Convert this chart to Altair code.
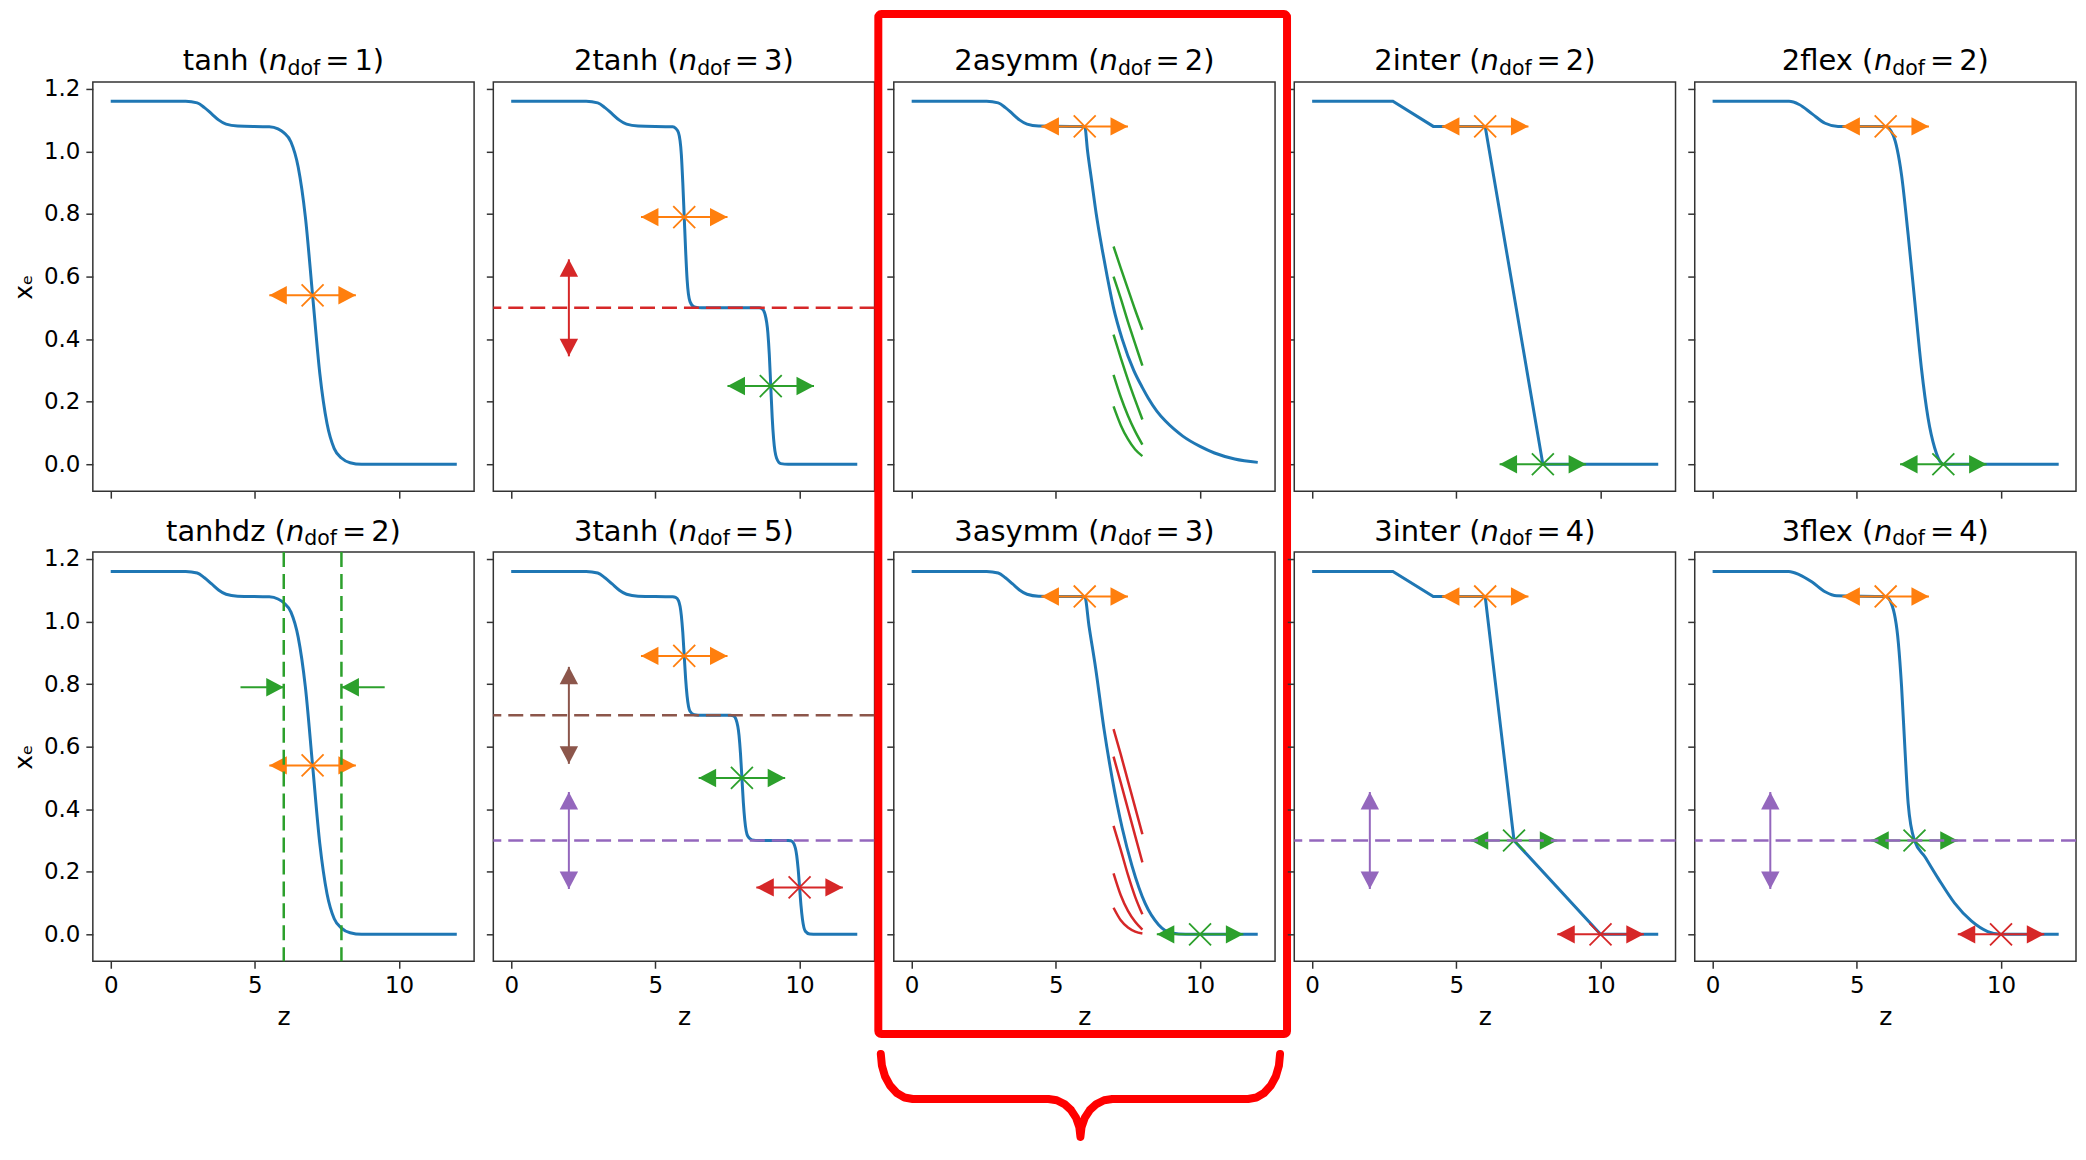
import altair as alt
import pandas as pd

# ------------------------------------------------------------------
# Values
# ------------------------------------------------------------------
PANEL_NAMES = ["tanh", "2tanh", "2asymm", "2inter", "2flex",
               "tanhdz", "3tanh", "3asymm", "3inter", "3flex"]
PANEL_NDOF = [1, 3, 2, 2, 2, 2, 5, 3, 4, 4]

X_TICKS = [0, 5, 10]
Y_TICKS = [0.0, 0.2, 0.4, 0.6, 0.8, 1.0, 1.2]

# blue model curves (z, x_e)
Z_TANH = [0, 2.6, 3.0, 3.25, 3.5, 3.75, 4.0, 4.4, 5.5, 5.8, 6.0, 6.25, 6.5, 6.75,
          7.0, 7.25, 7.5, 7.75, 8.0, 8.3, 8.7, 12.0]
XE_TANH = [1.16, 1.16, 1.155, 1.14, 1.12, 1.10, 1.087, 1.081, 1.079, 1.072, 1.06, 1.03,
           0.95, 0.79, 0.54, 0.29, 0.13, 0.05, 0.02, 0.005, 0.0, 0.0]

Z_2TANH = [0, 2.6, 3.0, 3.25, 3.5, 3.75, 4.0, 4.4,
           5.6, 5.7, 5.8, 5.9, 5.95, 6.0, 6.05, 6.1, 6.2, 6.35, 6.6,
           8.6, 8.7, 8.8, 8.9, 8.95, 9.0, 9.05, 9.1, 9.2, 9.35, 9.6, 12.0]
XE_2TANH = [1.16, 1.16, 1.155, 1.14, 1.12, 1.10, 1.087, 1.081,
            1.079, 1.074, 1.06, 0.99, 0.90, 0.79, 0.68, 0.59, 0.52, 0.503, 0.5,
            0.5, 0.497, 0.48, 0.42, 0.35, 0.25, 0.15, 0.08, 0.02, 0.002, 0.0, 0.0]

Z_2ASYMM = [0, 2.6, 3.0, 3.25, 3.5, 3.75, 4.0, 4.4, 5.5, 6.0, 6.1, 6.25, 6.4, 6.6, 6.78,
            7.0, 7.3, 7.7, 8.0, 8.2, 8.5, 8.8, 9.1, 9.4, 10.0, 10.5, 11.2, 12.0]
XE_2ASYMM = [1.16, 1.16, 1.155, 1.14, 1.12, 1.10, 1.087, 1.081, 1.08, 1.08, 1.0, 0.9, 0.8,
             0.69, 0.6, 0.5, 0.4, 0.3, 0.245, 0.212, 0.17, 0.138, 0.112, 0.09, 0.057,
             0.036, 0.017, 0.006]

Z_2INTER = [0, 2.8, 4.2, 6.0, 8.0, 12.0]
XE_2INTER = [1.16, 1.16, 1.08, 1.08, 0.0, 0.0]

Z_2FLEX = [0, 2.65, 3.0, 3.45, 3.9, 4.35, 6.0, 6.26, 6.55, 6.78, 7.01, 7.24, 7.47, 7.7,
           7.93, 8.0, 12.0]
XE_2FLEX = [1.16, 1.16, 1.15, 1.12, 1.09, 1.08, 1.08, 1.052, 0.925, 0.733, 0.52, 0.307,
            0.148, 0.052, 0.004, 0.0, 0.0]

Z_3TANH = [0, 2.6, 3.0, 3.25, 3.5, 3.75, 4.0, 4.4,
           5.6, 5.7, 5.8, 5.9, 5.95, 6.0, 6.05, 6.1, 6.2, 6.35, 6.6,
           7.6, 7.7, 7.8, 7.9, 7.95, 8.0, 8.05, 8.1, 8.2, 8.35, 8.6,
           9.6, 9.7, 9.8, 9.9, 9.95, 10.0, 10.05, 10.1, 10.2, 10.35, 10.6, 12.0]
XE_3TANH = [1.16, 1.16, 1.155, 1.14, 1.12, 1.10, 1.087, 1.081,
            1.079, 1.077, 1.067, 1.019, 0.965, 0.89, 0.815, 0.761, 0.713, 0.702, 0.7,
            0.7, 0.699, 0.686, 0.636, 0.579, 0.5, 0.421, 0.364, 0.314, 0.302, 0.3,
            0.3, 0.299, 0.29, 0.252, 0.209, 0.15, 0.091, 0.048, 0.01, 0.001, 0.0, 0.0]

Z_3ASYMM = [0, 2.6, 3.0, 3.25, 3.5, 3.75, 4.0, 4.4, 5.5, 6.0, 6.15, 6.38, 6.67, 6.95, 7.3,
            7.64, 8.1, 8.56, 9.02, 9.5, 12.0]
XE_3ASYMM = [1.16, 1.16, 1.155, 1.14, 1.12, 1.10, 1.087, 1.081, 1.08, 1.08, 0.985, 0.85,
             0.656, 0.5, 0.34, 0.219, 0.098, 0.031, 0.004, 0.0, 0.0]

Z_3INTER = [0, 2.8, 4.2, 6.0, 7.0, 10.0, 12.0]
XE_3INTER = [1.16, 1.16, 1.08, 1.08, 0.3, 0.0, 0.0]

Z_3FLEX = [0, 2.64, 3.0, 3.45, 3.9, 4.3, 6.0, 6.2, 6.44, 6.55, 6.67, 6.78, 7.0, 7.36,
           7.82, 8.39, 8.97, 9.54, 10.0, 12.0]
XE_3FLEX = [1.16, 1.16, 1.15, 1.126, 1.095, 1.082, 1.08, 1.057, 0.932, 0.795, 0.59, 0.419,
            0.3, 0.248, 0.179, 0.1, 0.043, 0.009, 0.0, 0.0]

# horizontal double arrows with an "x" at their centre
H_PANEL = [0, 1, 1, 2, 3, 3, 4, 4, 5, 6, 6, 6, 7, 7, 8, 8, 8, 9, 9, 9]
H_Z = [7, 6, 9, 6, 6, 8, 6, 8, 7, 6, 8, 10, 6, 10, 6, 7, 10, 6, 7, 10]
H_XE = [0.54, 0.79, 0.25, 1.08, 1.08, 0.0, 1.08, 0.0, 0.54, 0.89, 0.50, 0.15,
        1.08, 0.0, 1.08, 0.30, 0.0, 1.08, 0.30, 0.0]
H_KIND = ["orange", "orange", "green", "orange", "orange", "green", "orange", "green",
          "orange", "orange", "green", "red", "orange", "green", "orange", "green", "red",
          "orange", "green", "red"]

# vertical double arrows
V_PANEL = [1, 6, 6, 8, 9]
V_Z = [2, 2, 2, 2, 2]
V_XE = [0.5, 0.7, 0.3, 0.3, 0.3]
V_KIND = ["red", "brown", "purple", "purple", "purple"]

# horizontal dashed lines
HL_PANEL = [1, 6, 6, 8, 9]
HL_XE = [0.5, 0.7, 0.3, 0.3, 0.3]
HL_KIND = ["red", "brown", "purple", "purple", "purple"]

# vertical dashed lines (tanhdz)
VL_PANEL = [5, 5]
VL_Z = [6, 8]
VL_KIND = ["green", "green"]

# single arrows pointing inward (tanhdz)
IN_PANEL = [5, 5]
IN_TAIL = [4.5, 9.5]
IN_TIP = [6.0, 8.0]
IN_XE = [0.79, 0.79]
IN_KIND = ["green", "green"]

# shape-parameter arcs in the asymm panels
ARC_Z = [7.0, 7.25, 7.5, 7.75, 8.0]
ARCS_2ASYMM = [[0.696, 0.627, 0.56, 0.493, 0.43],
               [0.60, 0.53, 0.455, 0.385, 0.315],
               [0.414, 0.34, 0.27, 0.205, 0.143],
               [0.286, 0.215, 0.155, 0.105, 0.063],
               [0.185, 0.125, 0.08, 0.047, 0.026]]
ARCS_3ASYMM = [[0.656, 0.575, 0.49, 0.405, 0.32],
               [0.568, 0.485, 0.40, 0.315, 0.23],
               [0.347, 0.27, 0.19, 0.12, 0.064],
               [0.195, 0.125, 0.075, 0.04, 0.015],
               [0.085, 0.045, 0.022, 0.009, 0.003]]

# ------------------------------------------------------------------
# Layout / style
# ------------------------------------------------------------------
W, H = 382, 410
GAP_X, GAP_Y = 19.25, 61
XMIN, XMAX = -0.62, 12.6
YMIN, YMAX = -0.086, 1.222
ARROW_HALF_Z = 1.5
ARROW_HALF_XE = 0.155

COLORS = {"blue": "#1f77b4", "orange": "#ff7f0e", "green": "#2ca02c",
          "red": "#d62728", "purple": "#9467bd", "brown": "#8c564b"}
BLUE = COLORS["blue"]
HILITE = "#ff0000"
FONT = "DejaVu Sans"
TITLE_SIZE, SUB_SIZE = 29, 20.5
TITLE_BASE, SUB_BASE = -11.5, -7.0
EQ_GAP = 5.0

CHAR_EM = {" ": 0.318, "(": 0.390, ")": 0.390, "=": 0.838,
           "0": 0.636, "1": 0.636, "2": 0.636, "3": 0.636, "4": 0.636, "5": 0.636,
           "a": 0.613, "d": 0.635, "e": 0.615, "f": 0.352, "h": 0.634, "i": 0.278,
           "l": 0.278, "m": 0.974, "n": 0.634, "o": 0.612, "r": 0.411, "s": 0.521,
           "t": 0.392, "x": 0.592, "y": 0.592, "z": 0.525}

CURVES = {0: (Z_TANH, XE_TANH, "monotone"), 1: (Z_2TANH, XE_2TANH, "monotone"),
          2: (Z_2ASYMM, XE_2ASYMM, "monotone"), 3: (Z_2INTER, XE_2INTER, "linear"),
          4: (Z_2FLEX, XE_2FLEX, "monotone"), 5: (Z_TANH, XE_TANH, "monotone"),
          6: (Z_3TANH, XE_3TANH, "monotone"), 7: (Z_3ASYMM, XE_3ASYMM, "monotone"),
          8: (Z_3INTER, XE_3INTER, "linear"), 9: (Z_3FLEX, XE_3FLEX, "monotone")}
ARCS = {2: (ARCS_2ASYMM, "green"), 7: (ARCS_3ASYMM, "red")}

# decorative red frame and brace (pixel offsets relative to the 3asymm panel)
BOX_L, BOX_R, BOX_T, BOX_B = -15.5, 394, -539, 483
BRACE_PX = [-13, -11.9, -8.7, -3.6, 3, 10.7, 19, 155, 163.3, 171, 177.6, 182.7, 185.9,
            187, 188.1, 191.3, 196.4, 203, 210.7, 219, 355, 363.3, 371, 377.6, 382.7,
            385.9, 387]
BRACE_PY = [503, 514.6, 525.5, 534.8, 542, 546.5, 548, 548, 549.3, 553.1, 559.1, 567,
            576.2, 586, 576.2, 567, 559.1, 553.1, 549.3, 548, 548, 546.5, 542, 534.8,
            525.5, 514.6, 503]

SX = alt.Scale(domain=[XMIN, XMAX], nice=False, zero=False)
SY = alt.Scale(domain=[YMIN, YMAX], nice=False, zero=False)

PATH_RIGHT = "M 0 0 L -1.9 -1 L -1.9 1 Z"
PATH_LEFT = "M 0 0 L 1.9 -1 L 1.9 1 Z"
PATH_UP = "M 0 0 L -1 1.9 L 1 1.9 Z"
PATH_DOWN = "M 0 0 L -1 -1.9 L 1 -1.9 Z"
PATH_X = "M -1 -1 L 1 1 M -1 1 L 1 -1"
HEAD_SIZE = 340
X_SIZE = 484

ONE = pd.DataFrame({"k": [0]})


def text_width(s, size):
    return sum(CHAR_EM.get(c, 0.6) for c in s) * size


def panel(i):
    row, col = divmod(i, 5)
    ax_x = alt.Axis(values=X_TICKS, labels=(row == 1),
                    title=("z" if row == 1 else None), titlePadding=7)
    ax_y = alt.Axis(values=Y_TICKS, format=".1f", labels=(col == 0),
                    title=("x\u2091" if col == 0 else None), titlePadding=7)

    def X(f):
        return alt.X(f, type="quantitative", scale=SX, axis=ax_x)

    def Y(f):
        return alt.Y(f, type="quantitative", scale=SY, axis=ax_y)

    colr = alt.Color("c:N", scale=None)
    layers = []

    # model curve
    z, xe, interp = CURVES[i]
    cdf = pd.DataFrame({"z": z, "xe": xe})
    layers.append(alt.Chart(cdf).mark_line(color=BLUE, strokeWidth=3, interpolate=interp)
                  .encode(x=X("z"), y=Y("xe")))

    # arcs
    if i in ARCS:
        vals, kind = ARCS[i]
        rows = [{"z": zz, "xe": v, "arc": a, "c": COLORS[kind]}
                for a, arc in enumerate(vals) for zz, v in zip(ARC_Z, arc)]
        layers.append(alt.Chart(pd.DataFrame(rows))
                      .mark_line(strokeWidth=2.5, interpolate="monotone")
                      .encode(x=X("z"), y=Y("xe"), detail="arc:N", color=colr))

    # horizontal double arrows
    idx = [k for k, p in enumerate(H_PANEL) if p == i]
    if idx:
        hdf = pd.DataFrame({
            "zc": [H_Z[k] for k in idx],
            "z0": [H_Z[k] - ARROW_HALF_Z for k in idx],
            "z1": [H_Z[k] + ARROW_HALF_Z for k in idx],
            "xe": [H_XE[k] for k in idx],
            "c": [COLORS[H_KIND[k]] for k in idx],
        })
        b = alt.Chart(hdf)
        layers += [
            b.mark_rule(strokeWidth=2).encode(x=X("z0"), x2=alt.X2("z1"), y=Y("xe"), color=colr),
            b.mark_point(shape=PATH_LEFT, filled=True, size=HEAD_SIZE, opacity=1, strokeWidth=0)
             .encode(x=X("z0"), y=Y("xe"), color=colr),
            b.mark_point(shape=PATH_RIGHT, filled=True, size=HEAD_SIZE, opacity=1, strokeWidth=0)
             .encode(x=X("z1"), y=Y("xe"), color=colr),
            b.mark_point(shape=PATH_X, filled=False, size=X_SIZE, opacity=1, strokeWidth=1.8)
             .encode(x=X("zc"), y=Y("xe"), color=colr),
        ]

    # vertical double arrows
    idx = [k for k, p in enumerate(V_PANEL) if p == i]
    if idx:
        vdf = pd.DataFrame({
            "z": [V_Z[k] for k in idx],
            "y0": [V_XE[k] - ARROW_HALF_XE for k in idx],
            "y1": [V_XE[k] + ARROW_HALF_XE for k in idx],
            "c": [COLORS[V_KIND[k]] for k in idx],
        })
        b = alt.Chart(vdf)
        layers += [
            b.mark_rule(strokeWidth=2).encode(x=X("z"), y=Y("y0"), y2=alt.Y2("y1"), color=colr),
            b.mark_point(shape=PATH_UP, filled=True, size=HEAD_SIZE, opacity=1, strokeWidth=0)
             .encode(x=X("z"), y=Y("y1"), color=colr),
            b.mark_point(shape=PATH_DOWN, filled=True, size=HEAD_SIZE, opacity=1, strokeWidth=0)
             .encode(x=X("z"), y=Y("y0"), color=colr),
        ]

    # single inward arrows
    idx = [k for k, p in enumerate(IN_PANEL) if p == i]
    if idx:
        idf = pd.DataFrame({
            "zt": [IN_TAIL[k] for k in idx],
            "zh": [IN_TIP[k] for k in idx],
            "xe": [IN_XE[k] for k in idx],
            "c": [COLORS[IN_KIND[k]] for k in idx],
        })
        layers.append(alt.Chart(idf).mark_rule(strokeWidth=2)
                      .encode(x=X("zt"), x2=alt.X2("zh"), y=Y("xe"), color=colr))
        rdf = idf[idf["zh"] > idf["zt"]]
        ldf = idf[idf["zh"] < idf["zt"]]
        if len(rdf):
            layers.append(alt.Chart(rdf).mark_point(shape=PATH_RIGHT, filled=True, size=HEAD_SIZE,
                                                    opacity=1, strokeWidth=0)
                          .encode(x=X("zh"), y=Y("xe"), color=colr))
        if len(ldf):
            layers.append(alt.Chart(ldf).mark_point(shape=PATH_LEFT, filled=True, size=HEAD_SIZE,
                                                    opacity=1, strokeWidth=0)
                          .encode(x=X("zh"), y=Y("xe"), color=colr))

    # dashed horizontal lines
    idx = [k for k, p in enumerate(HL_PANEL) if p == i]
    if idx:
        ldf = pd.DataFrame({"xe": [HL_XE[k] for k in idx],
                            "c": [COLORS[HL_KIND[k]] for k in idx]})
        layers.append(alt.Chart(ldf).mark_rule(strokeWidth=2.5, strokeDash=[15, 7])
                      .encode(y=Y("xe"), color=colr))

    # dashed vertical lines
    idx = [k for k, p in enumerate(VL_PANEL) if p == i]
    if idx:
        ldf = pd.DataFrame({"z": [VL_Z[k] for k in idx],
                            "c": [COLORS[VL_KIND[k]] for k in idx]})
        layers.append(alt.Chart(ldf).mark_rule(strokeWidth=2.5, strokeDash=[15, 7])
                      .encode(x=X("z"), color=colr))

    # title  "<name> (n_dof = k)"
    left = f"{PANEL_NAMES[i]} ("
    num = f"{PANEL_NDOF[i]})"
    wl = text_width(left, TITLE_SIZE)
    wn = text_width("n", TITLE_SIZE)
    ws = text_width("dof", SUB_SIZE)
    we = text_width("=", TITLE_SIZE)
    wr = text_width(num, TITLE_SIZE)
    total = wl + wn + ws + EQ_GAP + we + EQ_GAP + wr
    x0 = W / 2 - total / 2
    pieces = [(left, x0, TITLE_BASE, TITLE_SIZE, "normal"),
              ("n", x0 + wl, TITLE_BASE, TITLE_SIZE, "italic"),
              ("dof", x0 + wl + wn, SUB_BASE, SUB_SIZE, "normal"),
              ("=", x0 + wl + wn + ws + EQ_GAP, TITLE_BASE, TITLE_SIZE, "normal"),
              (num, x0 + wl + wn + ws + 2 * EQ_GAP + we, TITLE_BASE, TITLE_SIZE, "normal")]
    for txt, px, py, fs, sty in pieces:
        layers.append(alt.Chart(ONE).mark_text(text=txt, align="left", baseline="alphabetic",
                                               font=FONT, fontSize=fs, fontStyle=sty,
                                               color="black")
                      .encode(x=alt.value(px), y=alt.value(py)))

    # red highlight frame and brace around the asymm column
    if i == 7:
        layers.append(alt.Chart(ONE).mark_rect(fillOpacity=0, stroke=HILITE, strokeWidth=8,
                                               cornerRadius=3)
                      .encode(x=alt.value(BOX_L), x2=alt.value(BOX_R),
                              y=alt.value(BOX_T), y2=alt.value(BOX_B)))
        bdf = pd.DataFrame({
            "bz": [XMIN + px / W * (XMAX - XMIN) for px in BRACE_PX],
            "bv": [YMAX - py / H * (YMAX - YMIN) for py in BRACE_PY],
            "k": list(range(len(BRACE_PX))),
        })
        layers.append(alt.Chart(bdf).mark_line(color=HILITE, strokeWidth=8, strokeCap="round",
                                               strokeJoin="round")
                      .encode(x=X("bz"), y=Y("bv"), order="k:Q"))

    return alt.layer(*layers).properties(width=W, height=H)


panels = [panel(i) for i in range(10)]

chart = (
    alt.concat(*panels, columns=5, spacing={"row": GAP_Y, "column": GAP_X}, bounds="flush")
    .properties(padding={"left": 2, "top": 0, "right": 0, "bottom": 0})
    .configure_view(stroke="#333333", strokeWidth=1.5)
    .configure_axis(grid=False, domain=False, ticks=True, tickColor="#333333",
                    tickWidth=1.5, tickSize=7, labelFont=FONT, labelFontSize=23,
                    labelColor="black", labelPadding=6, labelFlush=False,
                    titleFont=FONT, titleFontSize=25, titleFontWeight="normal",
                    titleColor="black")
)

chart.save("out.html", embed_options={"renderer": "svg", "actions": False})
